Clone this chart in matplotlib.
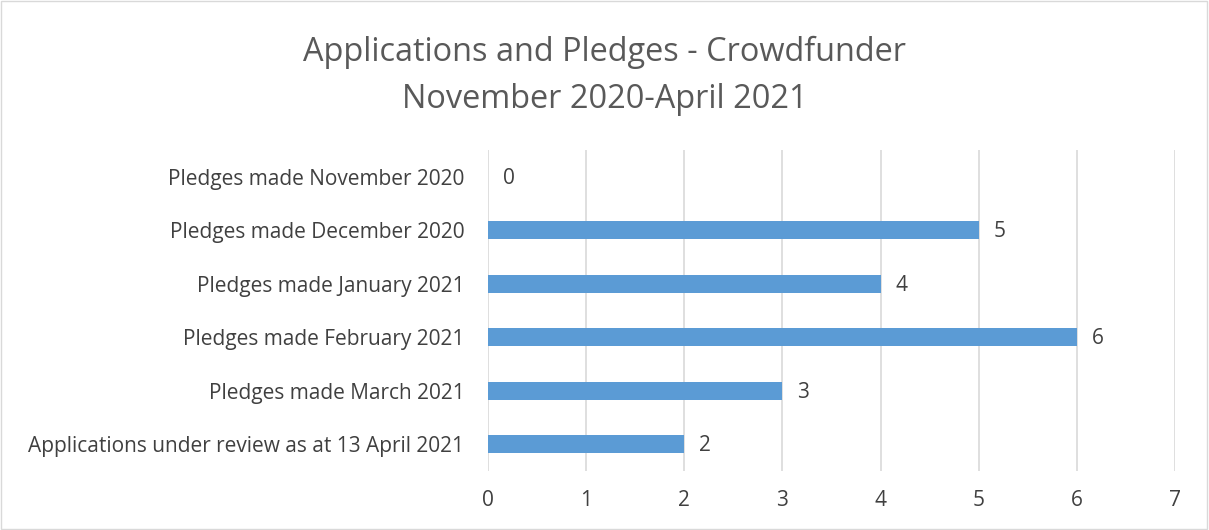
import matplotlib
matplotlib.use("Agg")
import matplotlib.pyplot as plt
from matplotlib.patches import Rectangle

categories = [
    "Pledges made November 2020",
    "Pledges made December 2020",
    "Pledges made January 2021",
    "Pledges made February 2021",
    "Pledges made March 2021",
    "Applications under review as at 13 April 2021",
]
values = [0, 5, 4, 6, 3, 2]
xticks = [0, 1, 2, 3, 4, 5, 6, 7]

plt.rcParams['font.family'] = ['Open Sans', 'DejaVu Sans']

fig = plt.figure(figsize=(12.09, 5.30), dpi=100)
ax = fig.add_axes([488/1209, 1 - 471/530, (1175-488)/1209, (471-150)/530])

ypos = list(range(len(categories)))
ax.barh(ypos, values, height=0.34, color="#5B9BD5", zorder=3)
for y, v in zip(ypos, values):
    ax.text(v + 0.15, y + 0.03, str(v), va="center", ha="left", fontsize=15, color="#404040")

ax.set_yticks(ypos)
ax.set_yticklabels(categories, fontsize=15, color="#404040")
ax.set_ylim(len(categories) - 0.5, -0.5)
ax.set_xlim(0, 7)
ax.set_xticks(xticks)
ax.set_xticklabels([str(t) for t in xticks], fontsize=15, color="#404040")
ax.grid(axis="x", color="#D9D9D9", linewidth=1.2, zorder=0)
for s in ax.spines.values():
    s.set_visible(False)
ax.tick_params(axis="both", length=0)
ax.tick_params(axis="y", pad=17)
ax.tick_params(axis="x", pad=14)

fig.text(0.5, 1 - 76/530, "Applications and Pledges - Crowdfunder\nNovember 2020-April 2021",
         ha="center", va="center", fontsize=23.4, color="#595959", linespacing=1.55)

fig.patches.append(Rectangle((0.001, 0.001), 0.997, 0.997, transform=fig.transFigure,
                             fill=False, edgecolor="#D9D9D9", linewidth=1))

fig.savefig("out.png", dpi=100)
